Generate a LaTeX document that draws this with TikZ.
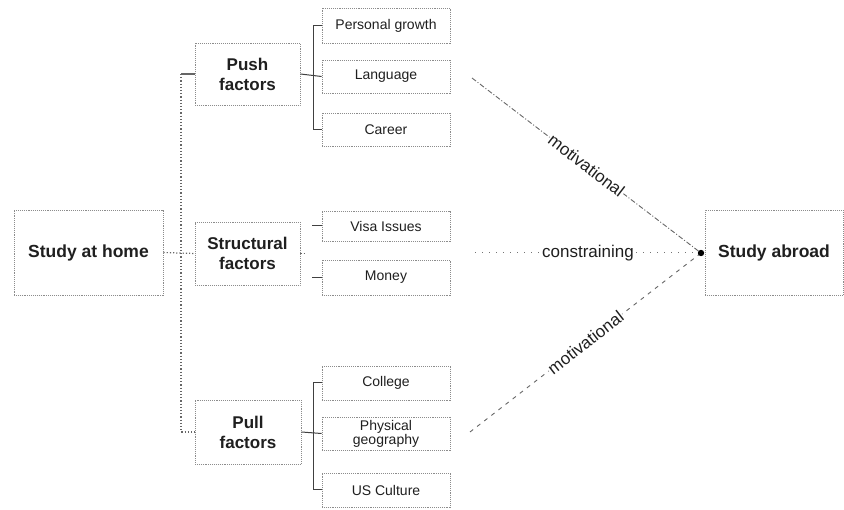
\documentclass[tikz,border=0pt]{standalone}
\usepackage{fontspec}
\setmainfont{Liberation Sans}
\begin{document}
\begin{tikzpicture}[x=1pt,y=-1pt,
  txt/.style={text=black!88},
  box/.style={draw=black!45, densely dotted, line width=0.9pt, txt, align=center, inner sep=0pt},
  mainbox/.style={box, font=\fontsize{17.5}{20}\selectfont\bfseries},
  factor/.style={box, font=\fontsize{17}{20}\selectfont\bfseries},
  item/.style={box, minimum width=128pt, font=\fontsize{14}{16}\selectfont},
  bracket/.style={draw=black!75, line width=1pt},
  spine/.style={draw=black!60, dotted, line width=1.2pt},
  motiv/.style={draw=black!60, line width=0.9pt, dash pattern=on 5pt off 2pt on 1pt off 2pt},
  motivb/.style={draw=black!60, line width=0.9pt, dash pattern=on 4pt off 5pt},
  constr/.style={draw=black!55, line width=1pt, dash pattern=on 1pt off 6pt},
  lbl/.style={txt, fill=white, inner sep=1pt, font=\fontsize{17}{20}\selectfont}]
\useasboundingbox (0,0) rectangle (844,510);

% outcome boxes
\node[mainbox, minimum width=149pt, minimum height=85pt] (home) at (88.5,252.5) {Study at home};
\node[mainbox, minimum width=138pt, minimum height=85pt] (abroad) at (774,253) {Study abroad};

% factor groups
\node[factor, minimum width=105pt, minimum height=62pt] (push) at (247.5,74) {Push\\factors};
\node[factor, minimum width=105pt, minimum height=63pt] (struct) at (247.5,253.5) {Structural\\factors};
\node[factor, minimum width=106pt, minimum height=64pt] (pull) at (248,432) {Pull\\factors};

% individual factors
\node[item, minimum height=35pt] (pg) at (386,25.5) {Personal growth};
\node[item, minimum height=33pt] (lang) at (386,76.5) {Language};
\node[item, minimum height=33pt] (career) at (386,129.5) {Career};
\node[item, minimum height=30pt] (visa) at (386,226) {Visa Issues};
\node[item, minimum height=35pt] (money) at (386,277.5) {Money};
\node[item, minimum height=34pt] (college) at (386,383) {College};
\node[item, minimum height=33pt] (phys) at (386,433.5) {Physical\\[-2pt]geography};
\node[item, minimum height=34pt] (usc) at (386,490) {US Culture};

% tree from home to the factor groups
\coordinate (spT) at (181,74);
\coordinate (spB) at (181,432);
\draw[bracket, line width=1.2pt, draw=black!60] (push.west) -- (spT);
\draw[spine] (spT) -- (spB) -- (pull.west);
\draw[spine] (home.east) -- (struct.west);

% brackets to the individual factors
\coordinate (pushB) at (313,129.5);
\draw[bracket] (pg.west) -| (pushB) -- (career.west);
\draw[bracket] (push.east) -- (lang.west);
\draw[bracket] (visa.west) -- ++(-10,0);
\draw[bracket] (money.west) -- ++(-10,0);
\draw[spine] (struct.east) -- ++(6,0);
\coordinate (pullB) at (313,490);
\draw[bracket] (college.west) -| (pullB) -- (usc.west);
\draw[bracket] (pull.east) -- (phys.west);

% influences on studying abroad
\coordinate (hub) at (701,253);
\coordinate (m1) at (472,78);
\coordinate (c1) at (475,253);
\coordinate (m2) at (470,432);
\draw[motiv] (m1) -- node[lbl, sloped] {motivational} (hub);
\draw[constr] (c1) -- node[lbl] {constraining} (hub);
\draw[motivb] (m2) -- node[lbl, sloped] {motivational} (hub);
\fill[black] (hub) circle (3.2pt);
\end{tikzpicture}
\end{document}
